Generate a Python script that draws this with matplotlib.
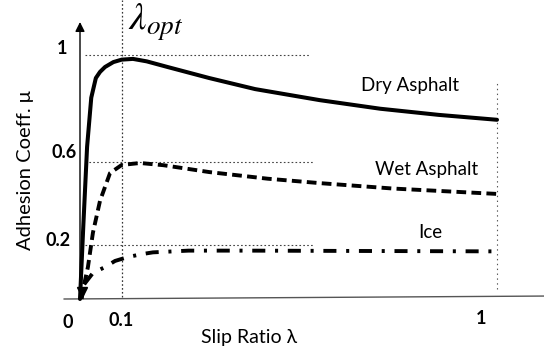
import matplotlib
matplotlib.use("Agg")
import matplotlib.pyplot as plt
import numpy as np

plt.rcParams['lines.scale_dashes'] = False
plt.rcParams['mathtext.fontset'] = 'stix'

# ---- data (schematic) ----
dry_x = [0.0, 0.008, 0.017, 0.027, 0.038, 0.048, 0.06, 0.08, 0.1, 0.127, 0.16, 0.21, 0.31, 0.42, 0.575, 0.72, 0.86, 1.0]
dry_y = [0.0, 0.30, 0.62, 0.82, 0.90, 0.925, 0.945, 0.965, 0.975, 0.978, 0.968, 0.945, 0.90, 0.855, 0.81, 0.775, 0.75, 0.73]

wet_x = [0.004, 0.007, 0.019, 0.031, 0.048, 0.072, 0.1, 0.144, 0.2, 0.31, 0.45, 0.575, 0.75, 1.0]
wet_y = [0.0, 0.037, 0.13, 0.27, 0.40, 0.513, 0.546, 0.554, 0.545, 0.517, 0.49, 0.472, 0.45, 0.428]

ice_x = [0.01, 0.031, 0.06, 0.084, 0.115, 0.149, 0.175, 0.26, 0.4, 0.6, 0.8, 1.0]
ice_y = [0.06, 0.106, 0.13, 0.155, 0.171, 0.183, 0.19, 0.197, 0.197, 0.196, 0.195, 0.194]

curve_labels = ["Dry Asphalt", "Wet Asphalt", "Ice"]
ref_levels = [0.994, 0.56, 0.218]          # dotted reference levels (peaks)
ytick_labels = ["1", "0.6", "0.2"]
xtick_vals = [0.0, 0.1, 1.0]
xtick_labels = ["0", "0.1", "1"]
lam_opt = 0.1

# ---- figure ----
W, H = 544, 358
fig = plt.figure(figsize=(W / 100, H / 100), dpi=100)
ax = fig.add_axes([0, 0, 1, 1])
sx = 417.0   # px per unit x
sy = 245.5   # px per unit y
x0p, y0p = 80.0, 299.0
ax.set_xlim(-x0p / sx, (W - x0p) / sx)
ax.set_ylim(-(H - y0p) / sy, y0p / sy)
ax.axis('off')

def px(xp):
    return (xp - x0p) / sx

def py(yp):
    return (y0p - yp) / sy

# axes
ax.plot([-0.038, (W - x0p) / sx], [0.0, 0.012], color='#555555', lw=1.0)
ax.annotate('', xy=(0, py(22)), xytext=(0, 0),
            arrowprops=dict(arrowstyle='-|>', color='black', lw=1.0,
                            mutation_scale=14, shrinkA=0, shrinkB=0))

# reference dotted lines
for lv, x1 in zip(ref_levels, [0.55, 0.56, 0.56]):
    ax.plot([0.012, x1], [lv, lv], color='#444444', lw=0.8, linestyle=(0, (1.2, 1.6)))
ax.plot([lam_opt, lam_opt], [0.008, y0p / sy], color='#333333', lw=0.9, linestyle=(0, (1.2, 1.6)))
ax.plot([1.0, 1.0], [0.04, 0.88], color='#555555', lw=0.8, linestyle=(0, (1.0, 2.5)))

# curves
ax.plot(dry_x, dry_y, color='black', lw=2.9, solid_capstyle='round')
ax.plot(wet_x, wet_y, color='black', lw=2.8, linestyle=(0, (7.0, 3.8)))
ax.plot(ice_x, ice_y, color='black', lw=2.8, linestyle=(0, (9.4, 7.0, 2.2, 7.0)))

# small downward arrowhead at origin
ax.plot([0.004], [0.03], marker='v', color='black', markersize=7)

# curve labels
lab_pos = [(410, 85), (427, 170), (430, 232)]
for t, (lx, ly) in zip(curve_labels, lab_pos):
    ax.text(px(lx), py(ly), t, fontsize=13.5, family='Lato', ha='center', va='center')

# lambda_opt
ax.text(px(156), py(22), r'$\lambda_{opt}$', fontsize=28, ha='center', va='center')

# tick labels
for v, t, (xp, yp) in zip(ref_levels, ytick_labels, [(62, 49), (64, 152), (58, 240)]):
    ax.text(px(xp), py(yp), t, fontsize=13, fontweight='bold', family='Lato',
            ha='center', va='center')
for v, t, (xp, yp) in zip(xtick_vals, xtick_labels, [(68, 322), (121, 320), (481, 318)]):
    ax.text(px(xp), py(yp), t, fontsize=13, fontweight='bold', family='Lato',
            ha='center', va='center')

# axis titles
ax.text(px(249), py(338), 'Slip Ratio λ', fontsize=14, family='Lato',
        ha='center', va='center')
ax.text(px(26), py(170), 'Adhesion Coeff. μ', fontsize=14.5, family='Lato',
        ha='center', va='center', rotation=90)

fig.savefig('out.png', dpi=100)
